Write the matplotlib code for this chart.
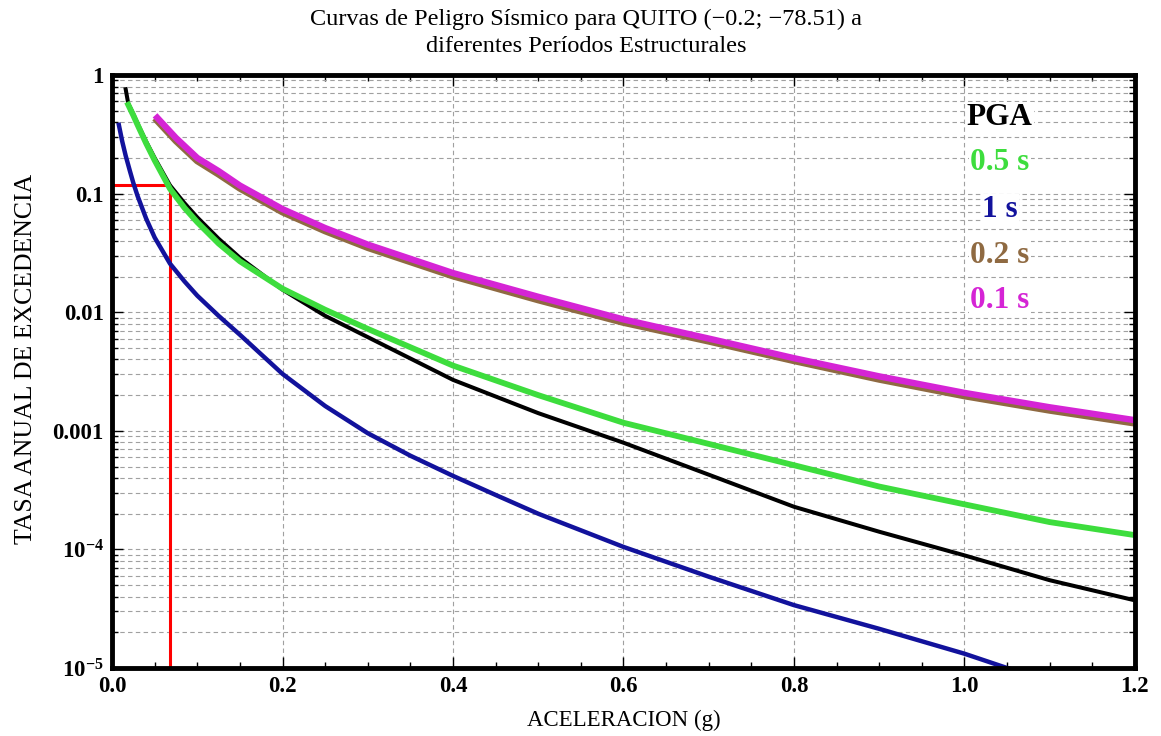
import matplotlib
matplotlib.use("Agg")
import matplotlib.pyplot as plt
import matplotlib.ticker as mticker
import numpy as np

plt.rcParams['font.family'] = ['Liberation Serif', 'DejaVu Serif']
plt.rcParams['mathtext.fontset'] = 'custom'
plt.rcParams['mathtext.rm'] = 'Liberation Serif'
plt.rcParams['mathtext.bf'] = 'Liberation Serif:bold'

# curvas (aceleracion en g, tasa anual)
x_pga = [0.016, 0.019, 0.025, 0.03, 0.04, 0.05, 0.068, 0.085, 0.1, 0.125, 0.15, 0.2, 0.25, 0.3, 0.4,
         0.5, 0.6, 0.7, 0.8, 0.9, 1.0, 1.1, 1.2]
y_pga = [0.76, 0.575, 0.468, 0.389, 0.275, 0.200, 0.1175, 0.0832, 0.0631, 0.0417, 0.0288, 0.0155,
         0.00933, 0.00617, 0.00269, 0.00141, 7.94e-4, 4.27e-4, 2.29e-4, 1.41e-4, 8.91e-5, 5.50e-5, 3.72e-5]

x_05 = [0.019, 0.025, 0.03, 0.04, 0.05, 0.068, 0.085, 0.1, 0.125, 0.15, 0.2, 0.25, 0.3, 0.4, 0.5, 0.6,
        0.7, 0.8, 0.9, 1.0, 1.1, 1.2]
y_05 = [0.562, 0.457, 0.380, 0.266, 0.191, 0.110, 0.0759, 0.0575, 0.0380, 0.0269, 0.0158, 0.0105,
        0.00724, 0.00355, 0.0020, 0.00117, 7.76e-4, 5.13e-4, 3.39e-4, 2.40e-4, 1.70e-4, 1.32e-4]

x_1 = [0.008, 0.012, 0.016, 0.021, 0.025, 0.03, 0.04, 0.05, 0.068, 0.085, 0.1, 0.125, 0.15, 0.2, 0.25,
       0.3, 0.35, 0.4, 0.45, 0.5, 0.6, 0.7, 0.8, 0.9, 1.0, 1.05, 1.1]
y_1 = [0.380, 0.275, 0.209, 0.155, 0.123, 0.0955, 0.0617, 0.0427, 0.0257, 0.0182, 0.0138, 0.00933,
       0.00646, 0.00302, 0.00162, 9.55e-4, 6.17e-4, 4.17e-4, 2.88e-4, 2.0e-4, 1.05e-4, 5.89e-5, 3.39e-5,
       2.14e-5, 1.32e-5, 1.0e-5, 8.0e-6]

x_02 = [0.053, 0.075, 0.1, 0.125, 0.15, 0.2, 0.25, 0.3, 0.4, 0.5, 0.6, 0.7, 0.8, 0.9, 1.0, 1.1, 1.2]
y_02 = [0.413, 0.279, 0.189, 0.146, 0.111, 0.070, 0.0485, 0.0351, 0.0202, 0.0127, 0.0082, 0.0057,
        0.0039, 0.00272, 0.00197, 0.00149, 0.00116]

x_01 = [0.053, 0.075, 0.1, 0.125, 0.15, 0.2, 0.25, 0.3, 0.4, 0.5, 0.6, 0.7, 0.8, 0.9, 1.0, 1.1, 1.2]
y_01 = [0.437, 0.295, 0.200, 0.155, 0.117, 0.0741, 0.0513, 0.0372, 0.0214, 0.0135, 0.0087, 0.0060,
        0.0041, 0.00288, 0.00209, 0.00158, 0.00123]

# punto marcado en rojo
red_x = 0.068
red_y = 0.118

labels = ["PGA", "0.5 s", "1 s", "0.2 s", "0.1 s"]
colors = ["#000000", "#3ddd3d", "#12129c", "#8f6a42", "#d524d5"]

xtick_vals = [0.0, 0.2, 0.4, 0.6, 0.8, 1.0, 1.2]
xtick_labels = ["0.0", "0.2", "0.4", "0.6", "0.8", "1.0", "1.2"]
ytick_vals = [1e-5, 1e-4, 1e-3, 1e-2, 1e-1, 1]
ytick_labels = [r"$\mathbf{10^{-5}}$", r"$\mathbf{10^{-4}}$", "0.001", "0.01", "0.1", "1"]

fig = plt.figure(figsize=(11.61, 7.36), dpi=100)
ax = fig.add_axes([0.0965, 0.0924, 0.881, 0.8056])

ax.plot([0, red_x, red_x], [red_y, red_y, 1e-5], color="#ff0000", lw=2.2, zorder=3)
ax.plot(x_pga, y_pga, color=colors[0], lw=2.9, zorder=4)
ax.plot(x_05, y_05, color=colors[1], lw=4.2, zorder=5)
ax.plot(x_1, y_1, color=colors[2], lw=3.2, zorder=4)
ax.plot(x_02, y_02, color=colors[3], lw=5, zorder=4)
ax.plot(x_01, y_01, color=colors[4], lw=4.6, zorder=5)

ax.set_yscale("log")
ax.set_xlim(0, 1.2)
ax.set_ylim(1e-5, 1)

ax.xaxis.set_major_locator(mticker.FixedLocator(xtick_vals))
ax.xaxis.set_major_formatter(mticker.FixedFormatter(xtick_labels))
ax.xaxis.set_minor_locator(mticker.MultipleLocator(0.05))
ax.yaxis.set_major_locator(mticker.FixedLocator(ytick_vals))
ax.yaxis.set_major_formatter(mticker.FixedFormatter(ytick_labels))
ax.yaxis.set_minor_locator(mticker.LogLocator(base=10, subs=np.arange(2, 10)))
ax.yaxis.set_minor_formatter(mticker.NullFormatter())

ax.tick_params(which="both", direction="in", top=True, right=True, width=1, color="black")
ax.tick_params(which="major", length=8, labelsize=16.5, pad=6)
ax.tick_params(which="minor", length=4)
for lab in ax.get_xticklabels() + ax.get_yticklabels():
    lab.set_fontweight("bold")

ax.grid(True, axis="x", which="major", color="#a0a0a0", lw=0.8, ls=(0, (4, 3)))
ax.grid(True, axis="y", which="both", color="#a0a0a0", lw=0.8, ls=(0, (4, 3)))

for sp in ax.spines.values():
    sp.set_linewidth(3.5)
    sp.set_color("black")
    sp.set_zorder(6)

ax.set_xlabel("ACELERACION (g)", fontsize=16.5, labelpad=9)
ax.set_ylabel("TASA ANUAL DE EXCEDENCIA", fontsize=18.5)
ax.yaxis.set_label_coords(-0.073, 0.521)
fig.suptitle("Curvas de Peligro Sísmico para QUITO (\u22120.2; \u221278.51) a\ndiferentes Períodos Estructurales",
             x=0.505, y=0.988, fontsize=17.5, linespacing=1.35)

# etiquetas de cada curva
ypos = [0.928, 0.852, 0.773, 0.695, 0.619]
for lab, col, yp in zip(labels, colors, ypos):
    ax.text(0.868, yp, lab, transform=ax.transAxes, ha="center", va="center", color=col,
            fontsize=22.5, fontweight="bold", zorder=7,
            bbox=dict(facecolor="white", edgecolor="none", pad=1))

fig.savefig("out.png", dpi=100)
